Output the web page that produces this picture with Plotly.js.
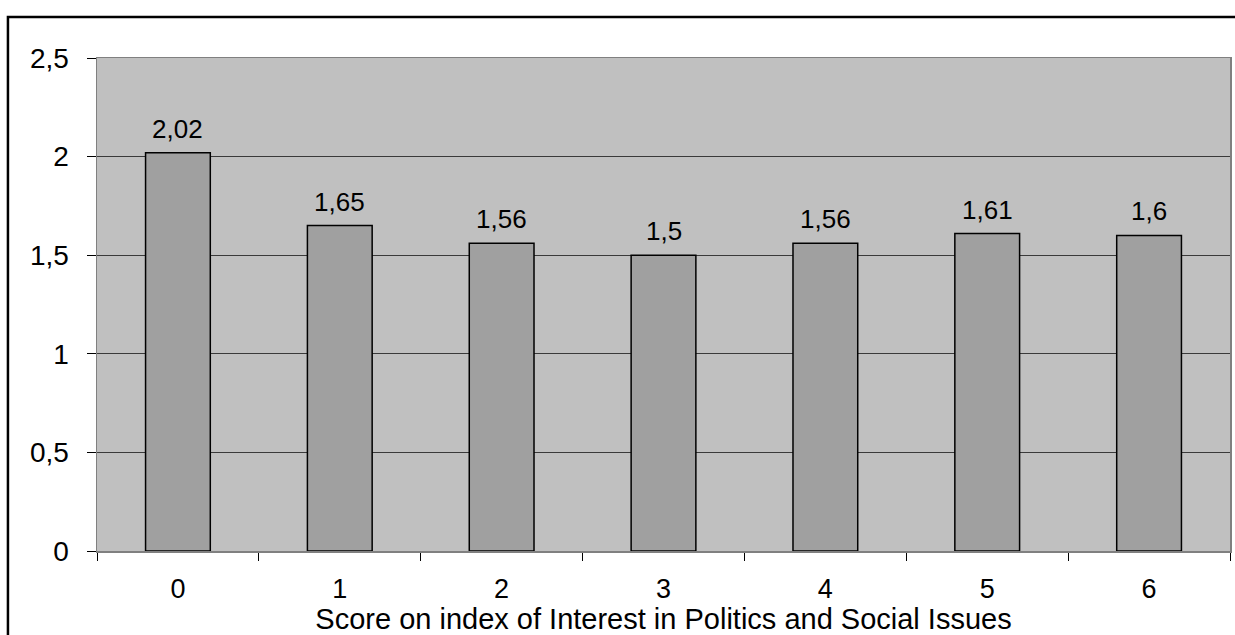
<!DOCTYPE html>
<html>
<head>
<meta charset="utf-8">
<script src="https://cdn.plot.ly/plotly-3.0.1.min.js"></script>
<style>html,body{margin:0;padding:0;background:#fff;}#chart{width:1235px;height:635px;}</style>
</head>
<body>
<div id="chart"></div>
<script>
const categories = ["0", "1", "2", "3", "4", "5", "6"];
const values = [2.02, 1.65, 1.56, 1.5, 1.56, 1.61, 1.6];
const valueLabels = ["2,02", "1,65", "1,56", "1,5", "1,56", "1,61", "1,6"];
const yTickVals = [0, 0.5, 1, 1.5, 2, 2.5];
const yTickText = ["0", "0,5", "1", "1,5", "2", "2,5"];
const xTitle = "Score on index of Interest in Politics and Social Issues";

const FONT = "Liberation Sans, Arial, sans-serif";
const FS = 28;

const trace = {
  type: "bar",
  x: categories,
  y: values,
  marker: {color: "#A0A0A0", line: {color: "#000000", width: 1.5}},
  hoverinfo: "none"
};

const annotations = categories.map((c, i) => ({
  x: c, y: values[i], xref: "x", yref: "y",
  text: valueLabels[i], showarrow: false,
  yanchor: "bottom", yshift: 7,
  font: {family: FONT, size: 26, color: "#000"}
}));

const layout = {
  width: 1235, height: 635,
  margin: {l: 97, r: 5, t: 58, b: 84},
  paper_bgcolor: "#ffffff",
  plot_bgcolor: "#C0C0C0",
  separators: ", ",
  bargap: 0.6,
  showlegend: false,
  font: {family: FONT, color: "#000"},
  xaxis: {
    type: "category",
    ticks: "outside", tickson: "boundaries", ticklen: 8, tickcolor: "#000", tickwidth: 1,
    showline: true, linecolor: "#808080", linewidth: 1.5, mirror: true,
    showgrid: false,
    tickfont: {family: FONT, size: 27, color: "#000"},
    ticklabelstandoff: 13,
    title: {text: xTitle, font: {family: FONT, size: 29, color: "#000"}, standoff: 3}
  },
  yaxis: {
    range: [0, 2.5],
    tickvals: yTickVals, ticktext: yTickText,
    ticks: "outside", ticklen: 9, tickcolor: "#000", tickwidth: 1,
    showline: true, linecolor: "#808080", linewidth: 1.5, mirror: true,
    showgrid: true, gridcolor: "#3a3a3a", gridwidth: 1,
    zeroline: false,
    tickfont: {family: FONT, size: FS, color: "#000"},
    ticklabelstandoff: 12
  },
  shapes: [{
    type: "rect", xref: "paper", yref: "paper",
    x0: -0.0786, x1: 1.2, y0: -0.3, y1: 1.0832,
    line: {color: "#000", width: 2.5}, fillcolor: "rgba(0,0,0,0)", layer: "below"
  }],
  annotations: annotations
};

Plotly.newPlot("chart", [trace], layout, {staticPlot: true, displayModeBar: false});
</script>
</body>
</html>
